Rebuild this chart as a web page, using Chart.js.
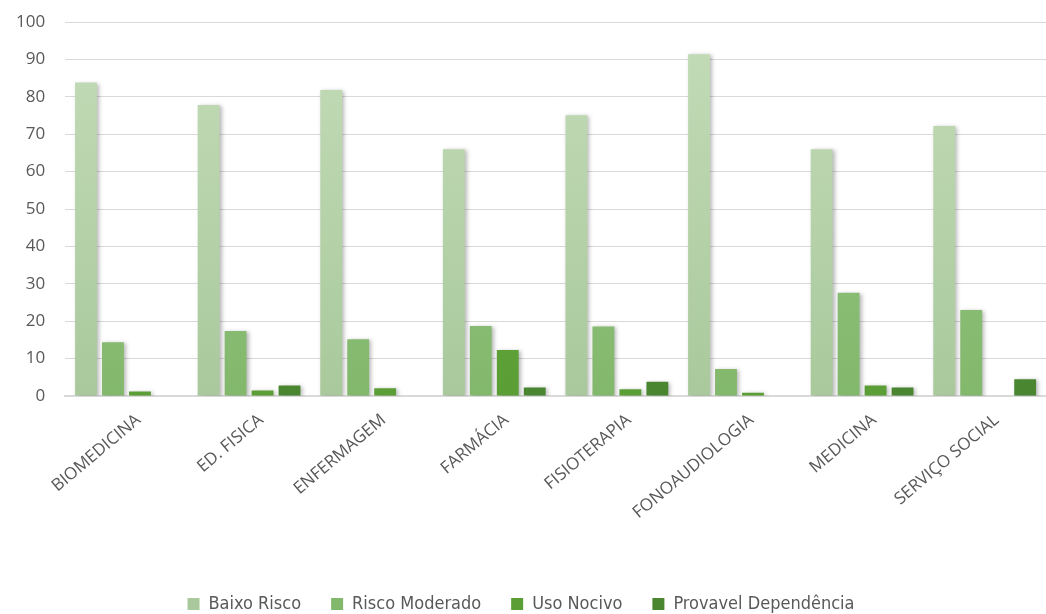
<!DOCTYPE html>
<html>
<head>
<meta charset="utf-8">
<script src="https://cdn.jsdelivr.net/npm/chart.js@4/dist/chart.umd.min.js"></script>
<style>
  html, body { margin: 0; padding: 0; background: #fff; }
  #wrap { width: 1046px; height: 614px; }
</style>
</head>
<body>
<div id="wrap"><canvas id="riscoChart"></canvas></div>
<script>
const CURSOS = ["BIOMEDICINA", "ED. FISICA", "ENFERMAGEM", "FARMÁCIA", "FISIOTERAPIA", "FONOAUDIOLOGIA", "MEDICINA", "SERVIÇO SOCIAL"];
const BAIXO_RISCO = [83.8, 77.8, 81.8, 66.0, 75.1, 91.4, 66.0, 72.2];
const RISCO_MODERADO = [14.4, 17.4, 15.2, 18.7, 18.6, 7.2, 27.6, 23.0];
const USO_NOCIVO = [1.2, 1.5, 2.1, 12.3, 1.8, 0.9, 2.8, 0];
const PROVAVEL_DEP = [0, 2.8, 0, 2.3, 3.8, 0, 2.3, 4.5];
const Y_TICKS = [0, 10, 20, 30, 40, 50, 60, 70, 80, 90, 100];

// vertical gradient, lighter at top
function grad(top, bottom) {
  return function (context) {
    const area = context.chart.chartArea;
    if (!area) return bottom;
    const g = context.chart.ctx.createLinearGradient(0, area.top, 0, area.bottom);
    g.addColorStop(0, top);
    g.addColorStop(1, bottom);
    return g;
  };
}

const shadowPlugin = {
  id: 'barShadow',
  beforeDatasetsDraw(chart) {
    const ctx = chart.ctx;
    ctx.save();
    ctx.shadowColor = 'rgba(0,0,0,0.28)';
    ctx.shadowBlur = 4;
    ctx.shadowOffsetX = 2;
    ctx.shadowOffsetY = 1;
  },
  afterDatasetsDraw(chart) {
    chart.ctx.restore();
  }
};

const RISCO = document.getElementById('riscoChart');

let riscoChart = new Chart(RISCO, {
  type: 'bar',
  data: {
    labels: CURSOS,
    datasets: [
      {
        label: "Baixo Risco",
        data: BAIXO_RISCO,
        backgroundColor: grad('#c3dcb8', '#a9c99c')
      },
      {
        label: "Risco Moderado",
        data: RISCO_MODERADO,
        backgroundColor: grad('#9cc888', '#82b86c')
      },
      {
        label: "Uso Nocivo",
        data: USO_NOCIVO,
        backgroundColor: grad('#6fae4c', '#5a9e35')
      },
      {
        label: "Provavel Dependência",
        data: PROVAVEL_DEP,
        backgroundColor: grad('#5a9440', '#4a8530')
      }
    ]
  },
  plugins: [shadowPlugin],
  options: {
    responsive: true,
    maintainAspectRatio: false,
    animation: false,
    datasets: {
      bar: {
        categoryPercentage: 0.88,
        barPercentage: 0.81
      }
    },
    layout: {
      padding: { left: -4, right: 0, top: 22, bottom: -9 }
    },
    scales: {
      x: {
        grid: { display: false },
        border: { color: '#d9d9d9', width: 2 },
        ticks: {
          color: '#595959',
          font: { family: 'Open Sans', size: 17 },
          minRotation: 40,
          maxRotation: 40,
          padding: 6,
          labelOffset: 12
        },
        afterFit(scale) { scale.height = 169; }
      },
      y: {
        min: 0,
        max: 100,
        afterBuildTicks(scale) {
          scale.ticks = Y_TICKS.map(v => ({ value: v }));
        },
        afterFit(scale) { scale.paddingTop = 0; },
        grid: { color: '#d9d9d9', lineWidth: 1, drawTicks: false },
        border: { display: false },
        ticks: {
          color: '#595959',
          font: { family: 'Open Sans', size: 17 },
          padding: 20
        }
      }
    },
    plugins: {
      legend: {
        position: 'bottom',
        labels: {
          color: '#595959',
          font: { family: "'Liberation Sans Narrow', 'DejaVu Sans Condensed', 'Liberation Sans', sans-serif", size: 18 },
          boxWidth: 12,
          boxHeight: 12,
          padding: 30
        }
      },
      tooltip: { enabled: false }
    }
  }
});
</script>
</body>
</html>
